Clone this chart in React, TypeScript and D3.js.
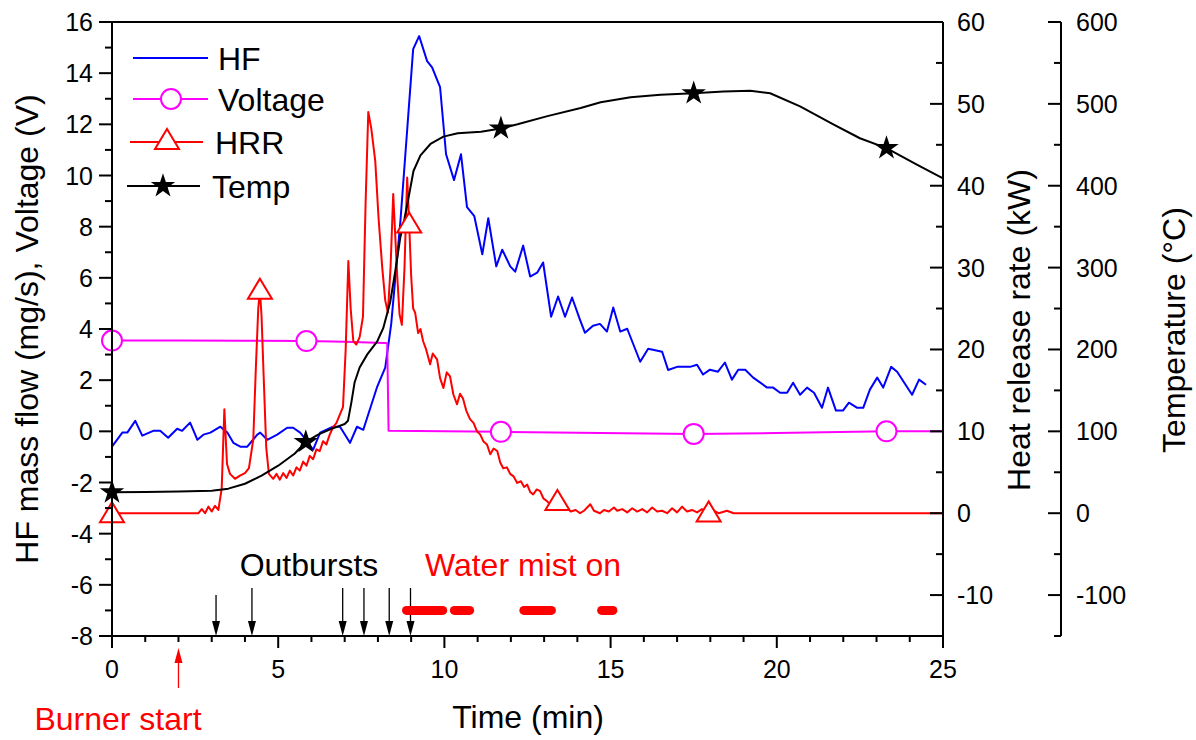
import React from 'react';
import * as d3 from 'd3';

// ---------- data ----------
const hfData: [number, number][] = [
  [0, -0.6], [0.31, -0.05], [0.46, -0.05], [0.7, 0.41], [0.91, -0.17], [1.24, 0.02], [1.45, 0.02],
  [1.69, -0.25], [1.96, 0.1], [2.11, 0.02], [2.35, 0.34], [2.57, -0.33], [2.75, -0.13], [2.96, -0.05],
  [3.26, 0.18], [3.47, -0.05], [3.65, -0.45], [3.86, -0.6], [4.07, -0.6], [4.37, -0.13], [4.46, -0.05],
  [4.67, -0.33], [4.97, -0.13], [5.27, 0.14], [5.45, 0.14], [5.66, -0.05], [5.84, -0.33], [6.05, -0.72],
  [6.26, -0.05], [6.65, 0.18], [6.86, 0.18], [7.16, -0.45], [7.37, 0.18], [7.56, 0.06], [7.98, 1.75],
  [8.22, 2.49], [8.4, 4.2], [8.68, 8.27], [9.06, 14.94], [9.24, 15.45], [9.48, 14.47], [9.63, 14.23],
  [9.87, 13.45], [10.05, 10.83], [10.29, 9.82], [10.5, 10.83], [10.68, 8.76], [10.9, 8.41], [11.14, 6.92],
  [11.32, 8.33], [11.56, 6.45], [11.74, 7.1], [11.98, 6.45], [12.13, 6.24], [12.37, 7.26], [12.58, 6.05],
  [12.79, 6.2], [12.97, 6.6], [13.21, 4.48], [13.42, 5.27], [13.63, 4.48], [13.84, 5.23], [14.08, 4.36],
  [14.23, 3.85], [14.47, 4.13], [14.68, 4.2], [14.89, 3.9], [15.08, 4.84], [15.29, 3.9], [15.5, 4.01],
  [15.89, 2.72], [16.13, 3.23], [16.55, 3.11], [16.73, 2.4], [17.0, 2.52], [17.39, 2.52], [17.6, 2.6],
  [17.78, 2.22], [17.99, 2.41], [18.23, 2.33], [18.44, 2.69], [18.65, 2.02], [18.84, 2.41], [19.05, 2.41],
  [19.29, 2.1], [19.71, 1.71], [19.89, 1.71], [20.1, 1.51], [20.31, 1.51], [20.49, 1.9], [20.7, 1.43],
  [20.91, 1.71], [21.12, 1.51], [21.36, 0.92], [21.54, 1.71], [21.78, 0.81], [21.99, 0.81], [22.17, 1.12],
  [22.42, 0.92], [22.6, 0.92], [22.8, 1.63], [23.02, 2.1], [23.2, 1.71], [23.44, 2.52], [23.62, 2.33],
  [24.07, 1.43], [24.28, 2.02], [24.49, 1.82],
];

const voltageData: [number, number][] = [
  [0, 3.55], [2, 3.55], [4, 3.54], [5.85, 3.53], [7, 3.5], [8.2, 3.45], [8.28, 3.44], [8.32, 0.02],
  [10, 0.0], [11.7, -0.02], [14, -0.06], [17.5, -0.1], [20, -0.07], [23.3, 0.0], [25, 0.0],
];
const voltageMarkers: [number, number][] = [[0, 3.55], [5.85, 3.53], [11.7, -0.02], [17.5, -0.1], [23.3, 0.0]];

const hrrData: [number, number][] = [
  [0, 0], [2.6, 0], [2.7, 0.5], [2.8, 0], [2.9, 0.8], [3.0, 0.2], [3.1, 0.9], [3.2, 0.4], [3.3, 3],
  [3.38, 12.7], [3.46, 6], [3.55, 4.8], [3.7, 4.2], [3.85, 4.6], [4.0, 4.9], [4.12, 5.5], [4.25, 9],
  [4.33, 18], [4.4, 25], [4.45, 27.3], [4.5, 24], [4.56, 17], [4.64, 8], [4.72, 4.8], [4.85, 4.2],
  [4.95, 4.8], [5.05, 4.1], [5.15, 4.9], [5.25, 4.3], [5.35, 5.2], [5.45, 4.6], [5.55, 5.6], [5.65, 5.2],
  [5.75, 6.3], [5.85, 5.8], [5.95, 7], [6.05, 6.6], [6.15, 7.8], [6.25, 7.6], [6.35, 8.8], [6.45, 8.4],
  [6.55, 9.6], [6.65, 10.5], [6.75, 11], [6.87, 12.2], [6.95, 13], [7.03, 20], [7.11, 30.8], [7.18, 25],
  [7.26, 21], [7.35, 20.6], [7.45, 21.5], [7.55, 24], [7.63, 38], [7.71, 49], [7.8, 47], [7.92, 43],
  [8.02, 36], [8.13, 30], [8.22, 26], [8.3, 24.5], [8.38, 30], [8.46, 39], [8.52, 34], [8.58, 29],
  [8.65, 24.3], [8.72, 23], [8.8, 30], [8.88, 41], [8.94, 35.4], [9.0, 29], [9.06, 25], [9.12, 24.5],
  [9.21, 22], [9.28, 22.5], [9.36, 21], [9.45, 20], [9.57, 18.2], [9.65, 19.5], [9.78, 18.8], [9.87, 16.5],
  [9.97, 15.3], [10.07, 17.2], [10.17, 16.7], [10.27, 14.5], [10.38, 13.3], [10.47, 14.6], [10.56, 14.0],
  [10.66, 12.5], [10.77, 11.5], [10.88, 11.0], [10.98, 10.0], [11.08, 9.6], [11.17, 8.8], [11.28, 8.4],
  [11.38, 7.2], [11.48, 7.9], [11.59, 7.6], [11.68, 6.2], [11.77, 5.5], [11.88, 5.6], [11.98, 4.8],
  [12.08, 4.5], [12.19, 3.7], [12.3, 3.9], [12.4, 3.2], [12.49, 3.5], [12.58, 2.6], [12.67, 2.3],
  [12.78, 2.9], [12.88, 2.7], [12.98, 1.8], [13.08, 1.5], [13.2, 1.0], [13.4, 1.5], [13.5, 0.5],
  [13.69, 0.6], [13.8, 0.2], [13.95, 0.4], [14.08, 0], [14.2, 0.3], [14.39, 1.1], [14.5, 0.3], [14.68, 0],
  [14.8, 0.4], [14.95, 0.2], [15.1, 0.7], [15.2, 0.3], [15.35, 0.5], [15.5, 0.1], [15.65, 0.6], [15.8, 0.2],
  [15.95, 0.5], [16.1, 0.1], [16.25, 0.7], [16.4, 0.2], [16.55, 0.3], [16.7, 0], [16.85, 0.6], [17.0, 0.1],
  [17.15, 0.8], [17.3, 0.2], [17.45, 0.4], [17.6, 0.1], [17.75, 0.5], [17.95, 0.1], [18.1, 0.3],
  [18.25, 0], [18.5, 0.3], [18.7, 0], [19.0, 0], [25, 0],
];
const hrrMarkers: [number, number][] = [[0, 0], [4.45, 27.3], [8.94, 35.4], [13.4, 1.5], [17.95, 0.1]];

const tempData: [number, number][] = [
  [0, 25.6], [1, 26], [2, 26.5], [3, 27.5], [3.5, 30], [4, 36], [4.5, 46], [5, 58], [5.5, 73],
  [5.83, 87], [6.2, 96], [6.6, 103], [7.0, 109], [7.1, 113], [7.2, 135], [7.3, 160], [7.45, 178],
  [7.68, 194], [7.98, 210], [8.16, 226], [8.37, 258], [8.52, 295], [8.67, 336], [8.8, 360], [8.92, 385],
  [9.07, 418], [9.28, 437], [9.58, 451], [9.97, 460], [10.4, 464], [11.1, 466], [11.7, 470], [12.2, 475],
  [13.1, 485], [14.1, 495], [14.7, 502], [15.6, 508], [16.5, 511], [17.5, 513], [18.4, 515], [19.2, 516],
  [19.8, 513], [20.7, 497], [21.7, 475], [22.5, 458], [23.3, 446], [24.2, 426], [25, 409],
];
const tempMarkers: [number, number][] = [[0, 25.6], [5.83, 87], [11.7, 470], [17.5, 513], [23.3, 446]];

const outburstTimes = [3.13, 4.21, 6.94, 7.58, 8.34, 8.98];
const waterMistSegments: [number, number][] = [[8.86, 9.95], [10.3, 10.76], [12.39, 13.22], [14.73, 15.07]];
const burnerStartTime = 2.0;

const timeTickValues = d3.range(0, 26, 1);
const timeLabelValues = [0, 5, 10, 15, 20, 25];
const leftTickValues = d3.range(-8, 17, 1);
const leftLabelValues = [-8, -6, -4, -2, 0, 2, 4, 6, 8, 10, 12, 14, 16];
const hrrTickValues = d3.range(-15, 61, 5);
const hrrLabelValues = [-10, 0, 10, 20, 30, 40, 50, 60];
const tempTickValues = d3.range(-150, 601, 50);
const tempLabelValues = [-100, 0, 100, 200, 300, 400, 500, 600];

const legendItems = ['HF', 'Voltage', 'HRR', 'Temp'];

// ---------- layout ----------
const W = 1196, H = 740;
const L = 112, R = 943, T = 22, B = 636;
const TEMP_X = 1061;
const FONT = '"Liberation Sans", Arial, Helvetica, sans-serif';

const x = d3.scaleLinear().domain([0, 25]).range([L, R]);
const yL = d3.scaleLinear().domain([-8, 16]).range([B, T]);
const yH = d3.scaleLinear().domain([-15, 60]).range([B, T]);
const yT = d3.scaleLinear().domain([-150, 600]).range([B, T]);

const BLUE = '#0000ff', MAG = '#ff00ff', RED = '#ff0000', BLK = '#000000';

function starPath(size = 185) {
  return d3.symbol().type(d3.symbolStar).size(size)() as string;
}
const triPath = 'M0,-11L12,9L-12,9Z';

function DownArrow({ px, y1, y2, color }: { px: number; y1: number; y2: number; color: string }) {
  return (
    <g>
      <line x1={px} x2={px} y1={y1} y2={y2 - 12} stroke={color} strokeWidth={1.3} />
      <path d={`M${px - 4},${y2 - 15}L${px + 4},${y2 - 15}L${px},${y2}Z`} fill={color} />
    </g>
  );
}
function UpArrow({ px, y1, y2, color }: { px: number; y1: number; y2: number; color: string }) {
  return (
    <g>
      <line x1={px} x2={px} y1={y1} y2={y2 + 12} stroke={color} strokeWidth={1.3} />
      <path d={`M${px - 4},${y2 + 15}L${px + 4},${y2 + 15}L${px},${y2}Z`} fill={color} />
    </g>
  );
}

export default function App() {
  const lineL = d3.line<[number, number]>().x(d => x(d[0])).y(d => yL(d[1]));
  const lineH = d3.line<[number, number]>().x(d => x(d[0])).y(d => yH(d[1]));
  const lineT = d3.line<[number, number]>().x(d => x(d[0])).y(d => yT(d[1]));

  const legendRows = [
    { lx1: 133, lx2: 208, ly: 58, tx: 218, ty: 70, color: BLUE, marker: null as null | string, mx: 0 },
    { lx1: 133, lx2: 208, ly: 99, tx: 218, ty: 111, color: MAG, marker: 'circle', mx: 171 },
    { lx1: 130, lx2: 203, ly: 142, tx: 215, ty: 154, color: RED, marker: 'tri', mx: 167 },
    { lx1: 127, lx2: 200, ly: 186, tx: 212, ty: 198, color: BLK, marker: 'star', mx: 163 },
  ];

  return (
    <svg width={W} height={H} viewBox={`0 0 ${W} ${H}`}
      style={{ position: 'absolute', left: 0, top: 0, background: '#fff' }} fontFamily={FONT}>
      <rect x={0} y={0} width={W} height={H} fill="#fff" />

      {/* data lines */}
      <path d={lineL(hfData) as string} fill="none" stroke={BLUE} strokeWidth={2} strokeLinejoin="round" />
      <path d={lineL(voltageData) as string} fill="none" stroke={MAG} strokeWidth={2} strokeLinejoin="round" />
      <path d={lineH(hrrData) as string} fill="none" stroke={RED} strokeWidth={2} strokeLinejoin="round" />
      <path d={lineT(tempData) as string} fill="none" stroke={BLK} strokeWidth={2} strokeLinejoin="round" />

      {/* markers */}
      {voltageMarkers.map((d, i) => (
        <circle key={'v' + i} cx={x(d[0])} cy={yL(d[1])} r={10} fill="#fff" stroke={MAG} strokeWidth={2} />
      ))}
      {hrrMarkers.map((d, i) => (
        <path key={'h' + i} d={triPath} transform={`translate(${x(d[0])},${yH(d[1])})`} fill="#fff" stroke={RED} strokeWidth={2} />
      ))}
      {tempMarkers.map((d, i) => (
        <path key={'t' + i} d={starPath()} transform={`translate(${x(d[0])},${yT(d[1])})`} fill={BLK} />
      ))}

      {/* frame & axes */}
      <line x1={L} x2={R} y1={T} y2={T} stroke={BLK} strokeWidth={2} />
      <line x1={L} x2={L} y1={T} y2={B} stroke={BLK} strokeWidth={2} />
      <line x1={R} x2={R} y1={T} y2={B} stroke={BLK} strokeWidth={2} />
      <line x1={L} x2={R} y1={B} y2={B} stroke={BLK} strokeWidth={2} />
      <line x1={TEMP_X} x2={TEMP_X} y1={T} y2={B} stroke={BLK} strokeWidth={2} />

      {/* bottom ticks */}
      {timeTickValues.map(v => {
        const major = v % 5 === 0;
        return <line key={'bt' + v} x1={x(v)} x2={x(v)} y1={B} y2={B + (major ? 12 : 6)} stroke={BLK} strokeWidth={2} />;
      })}
      {timeLabelValues.map(v => (
        <text key={'bl' + v} x={x(v)} y={678} fontSize={25} textAnchor="middle" fill={BLK}>{v}</text>
      ))}

      {/* left ticks */}
      {leftTickValues.map(v => {
        const major = v % 2 === 0;
        return <line key={'lt' + v} x1={L - (major ? 13 : 7)} x2={L} y1={yL(v)} y2={yL(v)} stroke={BLK} strokeWidth={2} />;
      })}
      {leftLabelValues.map(v => (
        <text key={'ll' + v} x={93} y={yL(v) + 9} fontSize={25} textAnchor="end" fill={BLK}>{v}</text>
      ))}

      {/* HRR ticks */}
      {hrrTickValues.map(v => {
        const major = v % 10 === 0;
        return <line key={'ht' + v} x1={R - (major ? 13 : 7)} x2={R} y1={yH(v)} y2={yH(v)} stroke={BLK} strokeWidth={2} />;
      })}
      {hrrLabelValues.map(v => (
        <text key={'hl' + v} x={957} y={yH(v) + 9} fontSize={25} textAnchor="start" fill={BLK}>{v}</text>
      ))}

      {/* Temperature ticks */}
      {tempTickValues.map(v => {
        const major = v % 100 === 0;
        return <line key={'tt' + v} x1={TEMP_X - (major ? 13 : 7)} x2={TEMP_X} y1={yT(v)} y2={yT(v)} stroke={BLK} strokeWidth={2} />;
      })}
      {tempLabelValues.map(v => (
        <text key={'tl' + v} x={1076} y={yT(v) + 9} fontSize={25} textAnchor="start" fill={BLK}>{v}</text>
      ))}

      {/* axis titles */}
      <text x={528} y={728} fontSize={32} textAnchor="middle" fill={BLK}>Time (min)</text>
      <text transform="translate(38,329) rotate(-90)" fontSize={32} textAnchor="middle" fill={BLK}>
        HF mass flow (mg/s), Voltage (V)
      </text>
      <text transform="translate(1030,330) rotate(-90)" fontSize={32} textAnchor="middle" fill={BLK}>
        Heat release rate (kW)
      </text>
      <text transform="translate(1185,330) rotate(-90)" fontSize={32} textAnchor="middle" fill={BLK}>
        Temperature (°C)
      </text>

      {/* legend */}
      {legendRows.map((r, i) => (
        <g key={'lg' + i}>
          <line x1={r.lx1} x2={r.lx2} y1={r.ly} y2={r.ly} stroke={r.color} strokeWidth={2} />
          {r.marker === 'circle' && <circle cx={r.mx} cy={r.ly} r={10} fill="#fff" stroke={r.color} strokeWidth={2} />}
          {r.marker === 'tri' && <path d={triPath} transform={`translate(${r.mx},${r.ly - 2})`} fill="#fff" stroke={r.color} strokeWidth={2} />}
          {r.marker === 'star' && <path d={starPath()} transform={`translate(${r.mx},${r.ly})`} fill={r.color} />}
          <text x={r.tx} y={r.ty} fontSize={32} fill={BLK}>{legendItems[i]}</text>
        </g>
      ))}

      {/* annotations */}
      {outburstTimes.map((t, i) => (
        <DownArrow key={'ob' + i} px={x(t)} y1={i === 0 ? 595 : 588} y2={B} color={BLK} />
      ))}
      {waterMistSegments.map((s, i) => (
        <line key={'wm' + i} x1={x(s[0])} x2={x(s[1])} y1={yL(-7)} y2={yL(-7)} stroke={RED} strokeWidth={9} strokeLinecap="round" />
      ))}
      <UpArrow px={x(burnerStartTime)} y1={688} y2={648} color={RED} />
      <text x={309} y={576} fontSize={32} textAnchor="middle" fill={BLK}>Outbursts</text>
      <text x={523} y={576} fontSize={32} textAnchor="middle" fill={RED}>Water mist on</text>
      <text x={118} y={730} fontSize={32} textAnchor="middle" fill={RED}>Burner start</text>
    </svg>
  );
}
